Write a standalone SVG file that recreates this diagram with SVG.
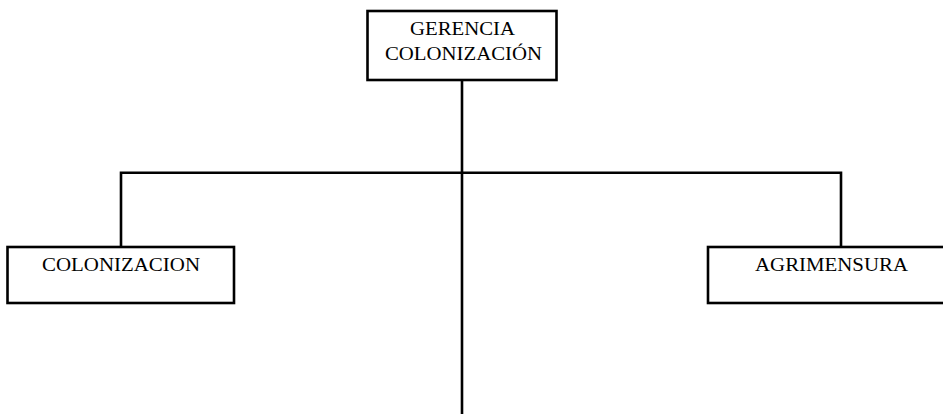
<svg xmlns="http://www.w3.org/2000/svg" width="943" height="414" viewBox="0 0 943 414">
<style>
.box{fill:#fff;stroke:#000;stroke-width:2.6}
.ln{fill:none;stroke:#000;stroke-width:2.6}
.t{font-family:"Liberation Serif","Times New Roman",serif;font-size:19px;fill:#000;text-anchor:middle}
</style>
<rect width="943" height="414" fill="#fff"/>
<g id="connectors">
<line class="ln" x1="462" y1="80" x2="462" y2="414"/>
<polyline class="ln" points="121,247 121,172.7 841,172.7 841,247"/>
</g>
<g id="gerencia">
<rect class="box" x="367.5" y="11" width="189" height="69"/>
<text class="t" x="462.5" y="35" textLength="105" lengthAdjust="spacingAndGlyphs">GERENCIA</text>
<text class="t" x="463.5" y="60" textLength="157" lengthAdjust="spacingAndGlyphs">COLONIZACIÓN</text>
</g>
<g id="colonizacion">
<rect class="box" x="7.5" y="247" width="226.5" height="56"/>
<text class="t" x="121" y="271" textLength="158" lengthAdjust="spacingAndGlyphs">COLONIZACION</text>
</g>
<g id="agrimensura">
<rect class="box" x="708" y="247" width="245" height="56"/>
<text class="t" x="831.5" y="271" textLength="153" lengthAdjust="spacingAndGlyphs">AGRIMENSURA</text>
</g>
</svg>
